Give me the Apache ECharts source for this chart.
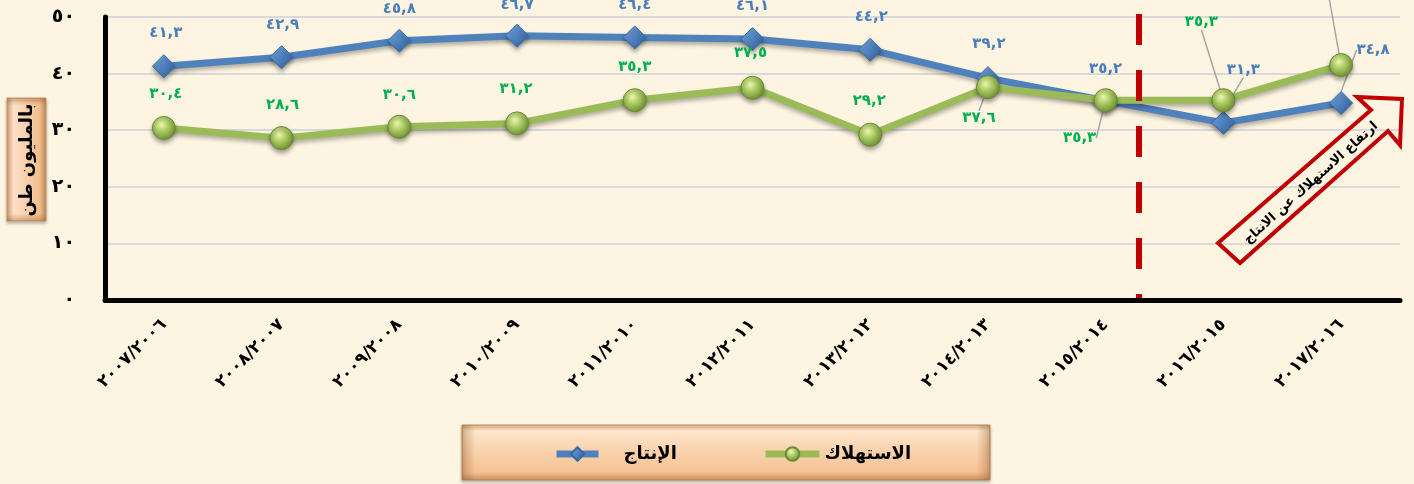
<!DOCTYPE html>
<html>
<head>
<meta charset="utf-8">
<script src="https://cdn.jsdelivr.net/npm/echarts@6/dist/echarts.min.js"></script>
<style>
  html, body { margin: 0; padding: 0; background: #fdf5e2; }
  #main { width: 1414px; height: 484px; }
</style>
</head>
<body>
<div id="main"></div>
<script>
// السنوات
var categories = [
  "٢٠٠٧/٢٠٠٦", "٢٠٠٨/٢٠٠٧", "٢٠٠٩/٢٠٠٨", "٢٠١٠/٢٠٠٩", "٢٠١١/٢٠١٠", "٢٠١٢/٢٠١١",
  "٢٠١٣/٢٠١٢", "٢٠١٤/٢٠١٣", "٢٠١٥/٢٠١٤", "٢٠١٦/٢٠١٥", "٢٠١٧/٢٠١٦"
];
// الإنتاج (مليون طن)
var production = [41.3, 42.9, 45.8, 46.7, 46.4, 46.1, 44.2, 39.2, 35.2, 31.3, 34.8];
// الاستهلاك (مليون طن)
var consumption = [30.4, 28.6, 30.6, 31.2, 35.3, 37.5, 29.2, 37.6, 35.3, 35.3, 41.5];
var yTicks = [0, 10, 20, 30, 40, 50];

// label placement (dx, dy from the point) and which labels get a leader line
var prodOffsets = [[2,-33],[1,-32],[0,-32],[0,-31],[0,-32],[0,-33],[1,-33],[1,-34],[0,-32],[20,-53],[32,-53]];
var consOffsets = [[2,-34],[1,-33],[0,-32],[-1,-34],[0,-33],[-2,-35],[-1,-34],[-9,31],[-26,38],[-22,-78],[-13,-80]];
var prodLeader = [9, 10];
var consLeader = [7, 8, 9, 10];

var FONT = "'DejaVu Sans', sans-serif";

function toAr(v) {
  return String(v).replace(/\d/g, function (d) { return "٠١٢٣٤٥٦٧٨٩"[d]; }).replace(".", ",");
}

function buildData(values, leaders) {
  return values.map(function (v, i) {
    return {
      value: v,
      labelLine: { show: leaders.indexOf(i) >= 0 }
    };
  });
}

var chart = echarts.init(document.getElementById("main"));

var blueSymbol = new echarts.graphic.LinearGradient(0, 0, 1, 1, [
  { offset: 0, color: "#7fb0ea" },
  { offset: 0.5, color: "#4f81bd" },
  { offset: 1, color: "#2c5a94" }
]);
var greenSymbol = new echarts.graphic.RadialGradient(0.4, 0.35, 0.7, [
  { offset: 0, color: "#eef8b0" },
  { offset: 0.45, color: "#a8c860" },
  { offset: 1, color: "#6a8a2e" }
]);

var legendText = { fontSize: 18, fontWeight: "bold", color: "#000", fontFamily: FONT };

var option = {
  backgroundColor: "#fdf5e2",
  animation: false,
  grid: { left: 105, right: 14, top: 17, bottom: 184 },
  legend: [
    {
      data: ["الإنتاج"],
      left: 553, top: 445, padding: 0, z: 10,
      itemWidth: 42, itemHeight: 17,
      lineStyle: { width: 7 },
      textStyle: Object.assign({ padding: [0, 0, 0, 20] }, legendText)
    },
    {
      data: ["الاستهلاك"],
      left: 762, top: 445, padding: 0, z: 10,
      itemWidth: 54, itemHeight: 17,
      lineStyle: { width: 7 },
      textStyle: legendText
    }
  ],
  xAxis: {
    type: "category",
    data: categories,
    boundaryGap: true,
    axisLine: { show: true, lineStyle: { color: "#000", width: 5 } },
    axisTick: { show: false },
    axisLabel: {
      rotate: 45, margin: 22, interval: 0,
      color: "#000", fontSize: 17, fontWeight: "bold", fontFamily: FONT
    },
    splitLine: { show: false }
  },
  yAxis: {
    type: "value",
    min: yTicks[0], max: yTicks[yTicks.length - 1], interval: 10,
    axisLine: { show: true, lineStyle: { color: "#000", width: 5 } },
    axisTick: { show: false },
    axisLabel: {
      margin: 30, color: "#000", fontSize: 19, fontWeight: "bold", fontFamily: FONT,
      formatter: function (v) { return toAr(v); }
    },
    splitLine: { show: true, lineStyle: { color: "#d9d9d9", width: 2 } }
  },
  series: [
    {
      name: "الإنتاج",
      type: "line",
      data: buildData(production, prodLeader),
      symbol: "diamond",
      symbolSize: 23,
      z: 3,
      lineStyle: {
        color: "#4f81bd", width: 7,
        shadowColor: "rgba(0,0,0,0.3)", shadowBlur: 4, shadowOffsetY: 3
      },
      itemStyle: {
        color: blueSymbol, borderColor: "#3a6aa5", borderWidth: 1,
        shadowColor: "rgba(0,0,0,0.35)", shadowBlur: 4, shadowOffsetY: 3
      },
      label: {
        show: true, position: "inside",
        color: "#4a7ebb", fontSize: 15, fontWeight: "bold", fontFamily: FONT,
        formatter: function (p) { return toAr(p.value); }
      },
      labelLine: { lineStyle: { color: "#a6a6a6", width: 1.5 } },
      labelLayout: function (p) {
        var o = prodOffsets[p.dataIndex];
        return { dx: o[0], dy: o[1] };
      }
    },
    {
      name: "الاستهلاك",
      type: "line",
      data: buildData(consumption, consLeader),
      symbol: "circle",
      symbolSize: 23,
      z: 4,
      lineStyle: {
        color: "#9bbb59", width: 7,
        shadowColor: "rgba(0,0,0,0.3)", shadowBlur: 4, shadowOffsetY: 3
      },
      itemStyle: {
        color: greenSymbol, borderColor: "#6b8a3a", borderWidth: 1,
        shadowColor: "rgba(0,0,0,0.35)", shadowBlur: 4, shadowOffsetY: 3
      },
      label: {
        show: true, position: "inside",
        color: "#00b050", fontSize: 15, fontWeight: "bold", fontFamily: FONT,
        formatter: function (p) { return toAr(p.value); }
      },
      labelLine: { lineStyle: { color: "#a6a6a6", width: 1.5 } },
      labelLayout: function (p) {
        var o = consOffsets[p.dataIndex];
        return { dx: o[0], dy: o[1] };
      }
    }
  ],
  graphic: [
    // y axis name box
    {
      type: "rect", z: 1,
      shape: { x: 7, y: 98, width: 39, height: 123 },
      style: {
        fill: new echarts.graphic.LinearGradient(0, 0, 1, 0, [
          { offset: 0, color: "#d39a68" },
          { offset: 0.18, color: "#fbe2c8" },
          { offset: 0.5, color: "#f8d0aa" },
          { offset: 0.82, color: "#f3bf90" },
          { offset: 1, color: "#c08656" }
        ]),
        stroke: "#c89a72", lineWidth: 1,
        shadowColor: "rgba(0,0,0,0.25)", shadowBlur: 3, shadowOffsetY: 2
      }
    },
    {
      type: "rect", z: 1,
      shape: { x: 7, y: 98, width: 39, height: 123 },
      style: {
        fill: new echarts.graphic.LinearGradient(0, 0, 0, 1, [
          { offset: 0, color: "rgba(150,90,40,0.35)" },
          { offset: 0.06, color: "rgba(150,90,40,0)" },
          { offset: 0.94, color: "rgba(150,90,40,0)" },
          { offset: 1, color: "rgba(150,90,40,0.4)" }
        ])
      }
    },
    {
      type: "text", z: 2,
      x: 27, y: 160, rotation: Math.PI / 2,
      style: {
        text: "بالمليون طن", x: 0, y: 0,
        align: "center", verticalAlign: "middle",
        font: "bold 18px " + FONT, fill: "#000"
      }
    },
    // legend box
    {
      type: "rect", z: 1,
      shape: { x: 462, y: 425, width: 528, height: 55 },
      style: {
        fill: new echarts.graphic.LinearGradient(0, 0, 0, 1, [
          { offset: 0, color: "#e9b98c" },
          { offset: 0.12, color: "#fde6cd" },
          { offset: 0.45, color: "#f9d3ae" },
          { offset: 0.85, color: "#f5c294" },
          { offset: 1, color: "#c48e60" }
        ]),
        stroke: "#b98a63", lineWidth: 1,
        shadowColor: "rgba(0,0,0,0.25)", shadowBlur: 3, shadowOffsetY: 2
      }
    },
    {
      type: "rect", z: 1,
      shape: { x: 462, y: 425, width: 528, height: 55 },
      style: {
        fill: new echarts.graphic.LinearGradient(0, 0, 1, 0, [
          { offset: 0, color: "rgba(150,90,40,0.4)" },
          { offset: 0.025, color: "rgba(150,90,40,0)" },
          { offset: 0.975, color: "rgba(150,90,40,0)" },
          { offset: 1, color: "rgba(150,90,40,0.4)" }
        ])
      }
    },
    // red dashed separator
    {
      type: "line", z: 5,
      shape: { x1: 1139, y1: 14, x2: 1139, y2: 298 },
      style: { stroke: "#c00000", lineWidth: 6, lineDash: [31, 25] }
    },
    // arrow
    {
      type: "polygon", z: 5,
      shape: {
        points: [[1218, 243], [1240, 263], [1388, 131], [1400, 145], [1402, 99], [1357, 97], [1371, 110]]
      },
      style: { fill: "transparent", stroke: "#c00000", lineWidth: 4, lineJoin: "miter" }
    },
    {
      type: "text", z: 6,
      x: 1311, y: 183, rotation: 42 * Math.PI / 180,
      style: {
        text: "ارتفاع الاستهلاك عن الانتاج", x: 0, y: 0,
        align: "center", verticalAlign: "middle",
        font: "bold 13px " + FONT, fill: "#000"
      }
    }
  ]
};

chart.setOption(option);
</script>
</body>
</html>
